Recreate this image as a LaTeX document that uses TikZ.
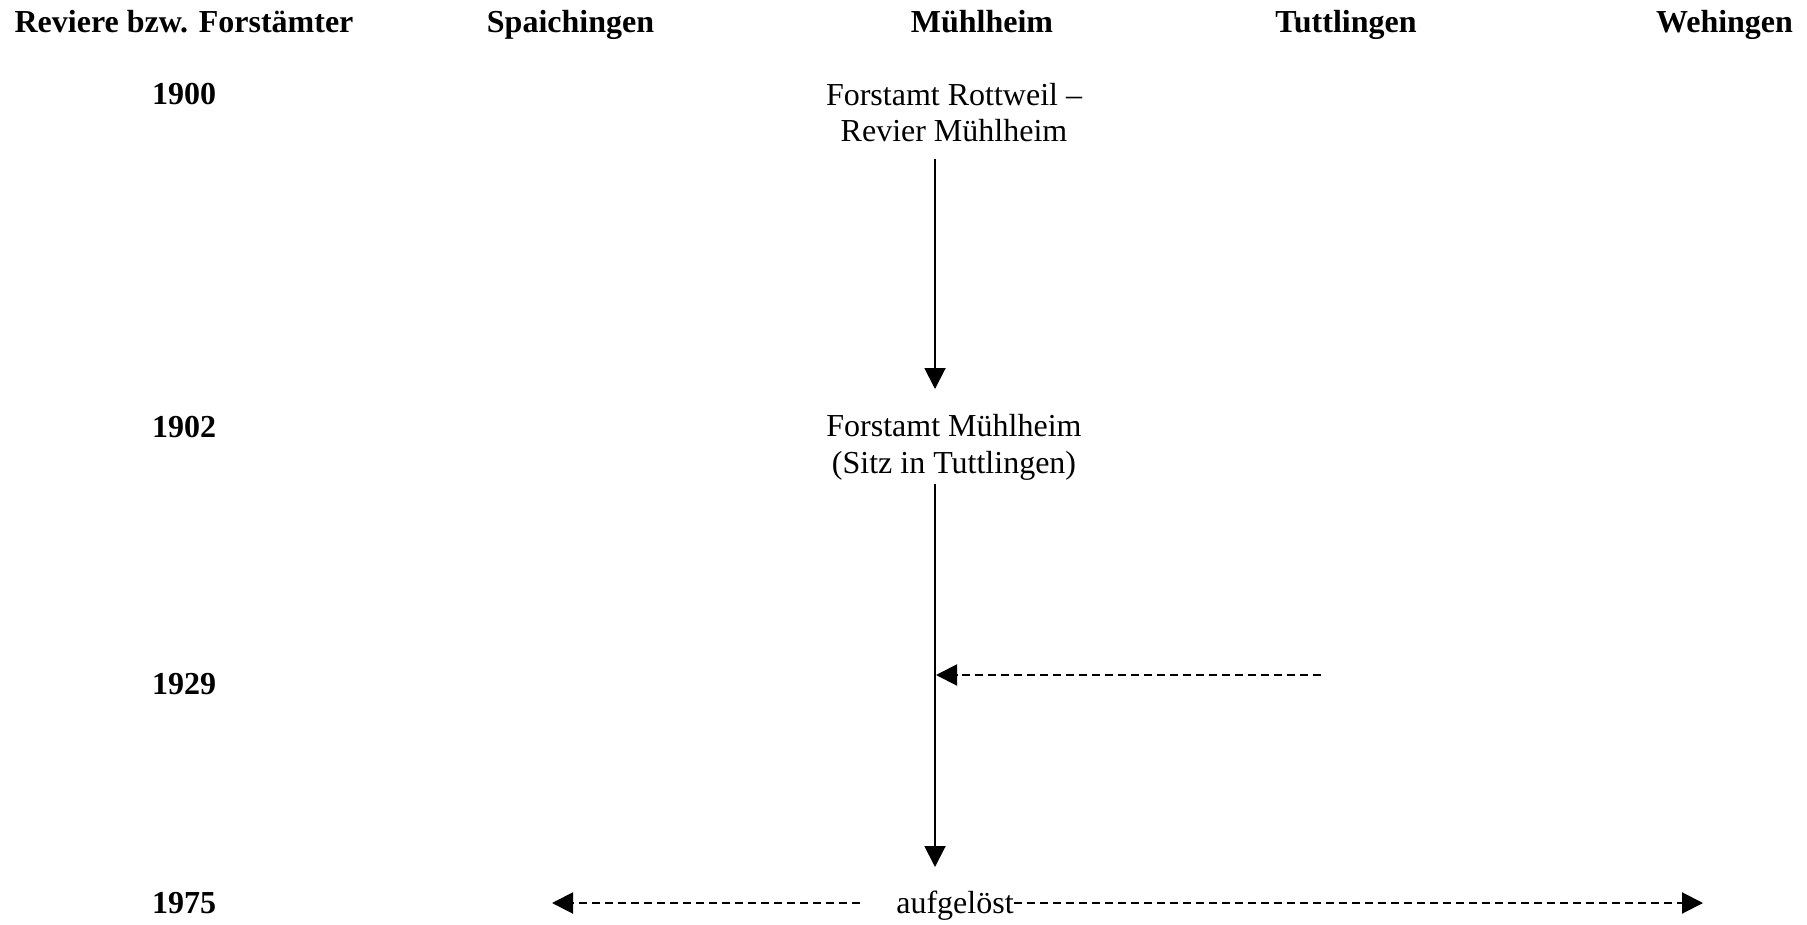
\documentclass[tikz,border=0pt]{standalone}
\usepackage{fontspec}
\setmainfont{Liberation Serif}
\usetikzlibrary{arrows.meta}
\begin{document}
\begin{tikzpicture}[x=1pt,y=-1pt,
  hdr/.style={font=\fontsize{32}{36.8}\selectfont\bfseries, inner sep=0pt, anchor=base},
  txt/.style={font=\fontsize{32}{36.8}\selectfont, inner sep=0pt, anchor=base, align=center},
  tip/.style={-{Triangle[length=21pt,width=21pt]}},
  solidarr/.style={line width=2pt, tip},
  dasharr/.style={line width=2pt, dash pattern=on 8.5pt off 4.5pt, tip}]
\useasboundingbox (0,0) rectangle (1807,925);
% headers
\node[hdr] (h0) at (184,33) {Reviere bzw. Forstämter};
\node[hdr] (h1) at (570.5,33) {Spaichingen};
\node[hdr] (h2) at (982,33) {Mühlheim};
\node[hdr] (h3) at (1346,33) {Tuttlingen};
\node[hdr] (h4) at (1724.5,33) {Wehingen};
% years
\node[hdr] (y1900) at (184,105) {1900};
\node[hdr] (y1902) at (184,437) {1902};
\node[hdr] (y1929) at (184,694) {1929};
\node[hdr] (y1975) at (184,913) {1975};
% texts (base = baseline of the last line)
\node[txt] (rev) at (954,142) {Forstamt Rottweil –\\Revier Mühlheim};
\node[txt] (fm) at (954,473) {Forstamt Mühlheim\\(Sitz in Tuttlingen)};
\node[txt] (auf) at (955,913) {aufgelöst};
% connector end points
\coordinate (a1s) at (935,159);
\coordinate (a1e) at (935,389);
\coordinate (a2s) at (935,484);
\coordinate (a2e) at (935,867);
\coordinate (d1s) at (1321,675);
\coordinate (d1e) at (936,675);
\coordinate (d2s) at (860,903);
\coordinate (d2e) at (552,903);
\coordinate (d3e) at (1703,903);
% connectors
\draw[solidarr] (a1s) -- (a1e);
\draw[solidarr] (a2s) -- (a2e);
\draw[dasharr] (d1s) -- (d1e);
\draw[dasharr] (d2s) -- (d2e);
\draw[dasharr] (auf.east |- d2s) -- (d3e);
\end{tikzpicture}
\end{document}
